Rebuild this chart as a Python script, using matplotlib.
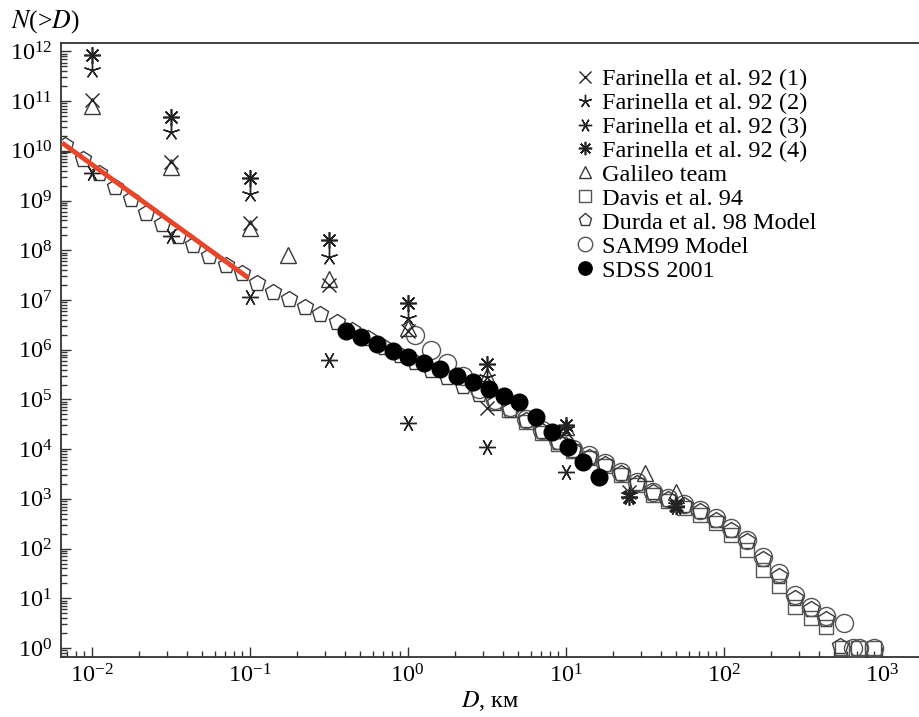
import numpy as np
import matplotlib
matplotlib.use("Agg")
import matplotlib.pyplot as plt
from matplotlib.ticker import LogLocator, NullFormatter

plt.rcParams["font.family"] = ["Liberation Serif", "DejaVu Serif"]
plt.rcParams["mathtext.fontset"] = "stix"

# Farinella et al. 92, four variants
far_D = [0.01, 0.0316, 0.1, 0.316, 1.0, 3.16, 10.0, 25.0, 50.0]
far1_N = [1.07e11, 6e9, 3.5e8, 2.0e7, 2.4e6, 6.8e4, 2.2e4, 1.4e3, 800]
far2_N = [4.2e11, 2.4e10, 1.35e9, 7.5e7, 4.4e6, 2.8e5, 2.5e4, 1.2e3, 750]
far3_N = [3.6e9, 1.9e8, 1.15e7, 6.2e5, 3.4e4, 1.1e4, 3.5e3, 1.1e3, 700]
far4_N = [8.5e11, 4.8e10, 2.9e9, 1.6e8, 8.7e6, 5.2e5, 3.0e4, 1.1e3, 720]

# Galileo team
gal_D = [0.01, 0.0316, 0.1, 0.175, 0.316, 1.0, 3.16, 10.0, 31.6, 50.0]
gal_N = [8e10, 4.8e9, 2.8e8, 8.1e7, 2.6e7, 2.7e6, 2.9e5, 2.8e4, 3.3e3, 1.4e3]

# Davis et al. 94
dav_D = [4.4, 5.6, 7.1, 8.9, 11.2, 14.1, 17.7, 22.4, 28.2, 35.5, 44.7, 56.2,
         70.8, 89.1, 112, 141, 178, 224, 282, 355, 447, 562, 708, 891]
dav_N = [6e4, 3.5e4, 2.1e4, 1.3e4, 9e3, 6.5e3, 4.5e3, 3e3, 1.9e3, 1.2e3, 900, 650,
         480, 320, 190, 93, 37, 18, 6.7, 4.0, 2.6, 1.0, 1.0, 1.0]

# Durda et al. 98 model
dur_D = [0.0068, 0.0088, 0.0112, 0.0141, 0.0177, 0.022, 0.028, 0.035, 0.044, 0.055,
         0.071, 0.089, 0.112, 0.14, 0.177, 0.224, 0.28, 0.355, 0.447, 0.562, 0.708,
         0.891, 1.12, 1.41, 1.77, 2.24, 2.82, 3.55, 4.47, 5.62, 7.08, 8.91, 11.2,
         14.1, 17.7, 22.4, 28.2, 35.5, 44.7, 56.2, 70.8, 89.1, 112, 141, 178, 224,
         282, 355, 447, 547]
dur_N = [1.3e10, 6.9e9, 3.6e9, 1.9e9, 1.08e9, 5.6e8, 3.4e8, 1.9e8, 1.3e8, 7.8e7,
         5.1e7, 3.5e7, 2.2e7, 1.45e7, 1.05e7, 7.2e6, 5.3e6, 3.6e6, 2.5e6, 1.7e6, 1.15e6,
         8e5, 5.8e5, 4e5, 2.8e5, 1.9e5, 1.3e5, 8.5e4, 6.2e4, 3.8e4, 2.3e4, 1.4e4, 9.5e3,
         7e3, 5e3, 3.3e3, 2.1e3, 1.35e3, 1e3, 750, 560, 380, 240, 140, 62, 28,
         10, 6.0, 3.8, 1.1]

# SAM99 model
sam_D = [1.12, 1.41, 1.77, 2.24, 2.82, 3.55, 4.47, 5.62, 7.08, 8.91, 11.2, 14.1,
         17.7, 22.4, 28.2, 35.5, 44.7, 56.2, 70.8, 89.1, 112, 141, 178, 224, 282,
         355, 447, 580, 660, 720, 900]
sam_N = [2e6, 1e6, 5.4e5, 3e5, 1.6e5, 9.8e4, 7e4, 4e4, 2.4e4, 1.5e4, 1e4, 7.6e3,
         5.3e3, 3.5e3, 2.2e3, 1.4e3, 1.05e3, 800, 600, 415, 260, 150, 68, 32, 11.7,
         6.7, 4.4, 3.2, 1.0, 1.0, 1.0]

# SDSS 2001
sdss_D = [0.407, 0.51, 0.64, 0.81, 1.0, 1.27, 1.6, 2.05, 2.6, 3.25, 4.07, 5.1,
          6.5, 8.2, 10.4, 12.9, 16.3]
sdss_N = [2.4e6, 1.8e6, 1.3e6, 9.5e5, 7.2e5, 5.4e5, 4.1e5, 2.9e5, 2.2e5, 1.65e5,
          1.2e5, 8.9e4, 4.5e4, 2.2e4, 1.1e4, 5.5e3, 2.8e3]

# power-law fit (red)
fit_D = [0.0065, 0.098]
fit_N = [1.45e10, 2.8e7]

# tick decades
x_decades = [-2, -1, 0, 1, 2, 3]
y_decades = list(range(0, 13))

ec = "#3a3a3a"
fig = plt.figure(figsize=(9.19, 7.17), dpi=100)
ax = fig.add_axes([0.066, 0.0837, 0.934, 0.8563])

ax.plot(dav_D, dav_N, ls="none", marker="s", ms=10, mfc="none", mec="#555555", mew=1.0,
        label="Davis et al. 94", zorder=3)
ax.plot(dur_D, dur_N, ls="none", marker="p", ms=12, mfc="none", mec=ec, mew=1.0,
        label="Durda et al. 98 Model", zorder=3)
ax.plot(sam_D, sam_N, ls="none", marker="o", ms=13, mfc="none", mec="#555555", mew=1.0,
        label="SAM99 Model", zorder=3)
ax.plot(gal_D, gal_N, ls="none", marker="^", ms=11, mfc="none", mec=ec, mew=1.0,
        label="Galileo team", zorder=4)
ax.plot(far_D, far1_N, ls="none", marker="x", ms=10, mec="#222222", mew=1.0,
        label="Farinella et al. 92 (1)", zorder=5)
ax.plot(far_D, far2_N, ls="none", marker=(5, 2, 0), ms=12, mec="#222222", mew=1.0,
        label="Farinella et al. 92 (2)", zorder=5)
ax.plot(far_D, far3_N, ls="none", marker=(6, 2, 90), ms=12, mec="#222222", mew=1.0,
        label="Farinella et al. 92 (3)", zorder=5)
ax.plot(far_D, far4_N, ls="none", marker=(8, 2, 0), ms=12, mec="#222222", mew=1.2,
        label="Farinella et al. 92 (4)", zorder=5)
ax.plot(sdss_D, sdss_N, ls="none", marker="o", ms=12, mfc="black", mec="black",
        label="SDSS 2001", zorder=6)
ax.plot(fit_D, fit_N, color="#e8462a", lw=3.5, solid_capstyle="butt", zorder=7)

ax.set_xscale("log")
ax.set_yscale("log")
ax.set_xlim(10 ** -2.196, 10 ** 3.236)
ax.set_ylim(10 ** -0.18, 10 ** 12.17)

ax.set_xticks([10.0 ** k for k in x_decades])
ax.set_yticks([10.0 ** k for k in y_decades])
for axis in (ax.xaxis, ax.yaxis):
    axis.set_minor_locator(LogLocator(base=10, subs=np.arange(2, 10), numticks=300))
    axis.set_minor_formatter(NullFormatter())

ax.tick_params(which="both", direction="in", top=False, right=False, color="#333333",
               labelsize=17.5, width=1.0)
ax.tick_params(which="major", length=7)
ax.tick_params(which="minor", length=4)
ax.tick_params(axis="x", pad=5)
ax.tick_params(axis="y", pad=6)
for side in ("left", "bottom", "top"):
    ax.spines[side].set_linewidth(1.3)
    ax.spines[side].set_color("#333333")
ax.spines["right"].set_visible(False)

fig.text(0.012, 0.988, "$N$(>$D$)", fontsize=18.5, ha="left", va="top")
ax.set_xlabel("$D$, км", fontsize=17.5, labelpad=1)

order = ["Farinella et al. 92 (1)", "Farinella et al. 92 (2)", "Farinella et al. 92 (3)",
         "Farinella et al. 92 (4)", "Galileo team", "Davis et al. 94",
         "Durda et al. 98 Model", "SAM99 Model", "SDSS 2001"]
h, l = ax.get_legend_handles_labels()
hd = dict(zip(l, h))
ax.legend([hd[k] for k in order], order, loc="upper left",
          bbox_to_anchor=(0.629, 0.905), bbox_transform=fig.transFigure,
          frameon=False, fontsize=17.5, labelspacing=0.08, handlelength=0.6,
          handletextpad=0.4, markerscale=0.8, borderpad=0.0, borderaxespad=0.0)

fig.savefig("out.png", dpi=100)
